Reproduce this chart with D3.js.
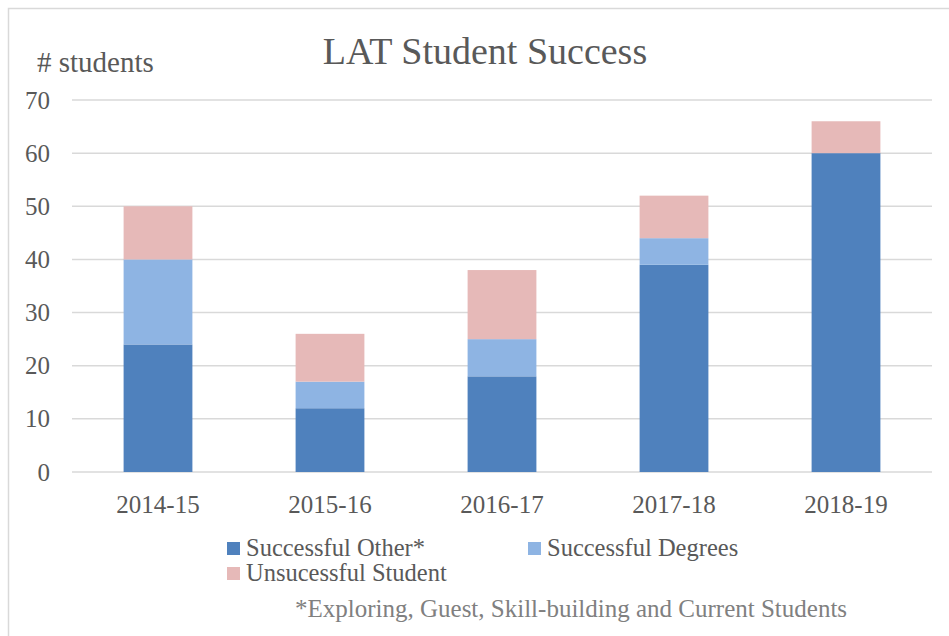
<!DOCTYPE html>
<html>
<head>
<meta charset="utf-8">
<script src="https://cdn.jsdelivr.net/npm/d3@7"></script>
<style>
  body { margin: 0; background: #fff; }
  svg { display: block; font-family: "Liberation Serif", "Times New Roman", serif; }
</style>
</head>
<body>
<svg id="chart" width="949" height="636"></svg>
<script>
// data
const years = ["2014-15", "2015-16", "2016-17", "2017-18", "2018-19"];
const successOther = [24, 12, 18, 39, 60];
const successDegrees = [16, 5, 7, 5, 0];
const unsuccessful = [10, 9, 13, 8, 6];
const seriesNames = ["Successful Other*", "Successful Degrees", "Unsucessful Student"];
const yTicks = [0, 10, 20, 30, 40, 50, 60, 70];

function MakeChart() {
    const svg = d3.select("#chart");
    const width = +svg.attr("width");
    const height = +svg.attr("height");
    svg.selectAll("*").remove();

    const colors = ["#4f81bd", "#8eb4e3", "#e6b9b8"];
    const textColor = "#595959";

    // outer frame (only top and left visible)
    svg.append("path")
        .attr("d", `M8.5,${height} V8.5 H${width}`)
        .attr("fill", "none")
        .attr("stroke", "#d9d9d9")
        .attr("stroke-width", 1.5);

    const margin = {left: 72, right: 17, top: 100, bottom: 164};
    const plotW = width - margin.left - margin.right;
    const plotH = height - margin.top - margin.bottom;
    const g = svg.append("g").attr("transform", `translate(${margin.left},${margin.top})`);

    const table = years.map((y, i) => ({
        year: y,
        other: successOther[i],
        degrees: successDegrees[i],
        unsuccessful: unsuccessful[i]
    }));
    const keys = ["other", "degrees", "unsuccessful"];
    const stacked = d3.stack().keys(keys)(table);

    const x = d3.scaleBand().domain(years).range([0, plotW]).paddingInner(0.6).paddingOuter(0.3);
    const y = d3.scaleLinear().domain([0, 70]).range([plotH, 0]);

    // gridlines
    g.append("g")
        .selectAll("line")
        .data(yTicks)
        .join("line")
        .attr("x1", 0).attr("x2", plotW)
        .attr("y1", d => y(d)).attr("y2", d => y(d))
        .attr("stroke", "#d9d9d9")
        .attr("stroke-width", 1.5);

    // y axis labels
    const yAxis = g.append("g")
        .call(d3.axisLeft(y).tickValues(yTicks).tickSize(0).tickPadding(22));
    yAxis.select(".domain").remove();
    yAxis.selectAll("text")
        .attr("fill", textColor)
        .style("font-size", "25px")
        .style("font-family", "Liberation Serif");

    // bars
    g.append("g")
        .selectAll("g")
        .data(stacked)
        .join("g")
        .attr("fill", (d, i) => colors[i])
        .selectAll("rect")
        .data(d => d)
        .join("rect")
        .attr("x", d => x(d.data.year))
        .attr("width", x.bandwidth())
        .attr("y", d => y(d[1]))
        .attr("height", d => y(d[0]) - y(d[1]));

    // x axis labels
    const xAxis = g.append("g")
        .attr("transform", `translate(0,${plotH})`)
        .call(d3.axisBottom(x).tickSize(0).tickPadding(23));
    xAxis.select(".domain").remove();
    xAxis.selectAll("text")
        .attr("fill", textColor)
        .style("font-size", "25px")
        .style("font-family", "Liberation Serif");

    // title
    svg.append("text")
        .attr("x", 485).attr("y", 64)
        .attr("text-anchor", "middle")
        .attr("fill", textColor)
        .style("font-size", "38px")
        .text("LAT Student Success");

    // axis title
    svg.append("text")
        .attr("x", 37).attr("y", 72)
        .attr("fill", textColor)
        .style("font-size", "29px")
        .text("# students");

    // legend
    const legendPos = [[227, 542], [528, 542], [227, 567]];
    const legend = svg.append("g");
    seriesNames.forEach((name, i) => {
        const [lx, ly] = legendPos[i];
        legend.append("rect")
            .attr("x", lx).attr("y", ly)
            .attr("width", 13).attr("height", 13)
            .attr("fill", colors[i]);
        legend.append("text")
            .attr("x", lx + 19).attr("y", ly + 14)
            .attr("fill", textColor)
            .style("font-size", "24.5px")
            .text(name);
    });

    // footnote
    svg.append("text")
        .attr("x", 295).attr("y", 617)
        .attr("fill", "#808080")
        .style("font-size", "25px")
        .text("*Exploring, Guest, Skill-building and Current Students");
}

MakeChart();
</script>
</body>
</html>
